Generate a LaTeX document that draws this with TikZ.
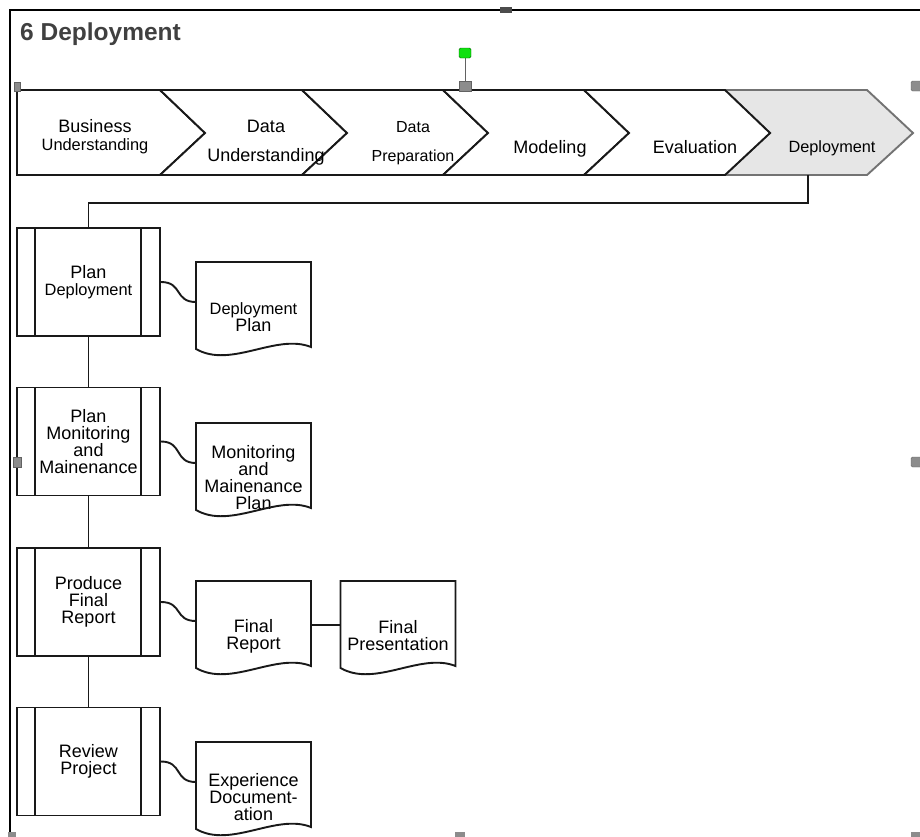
\documentclass[tikz,border=0pt]{standalone}
\usepackage{fontspec}
\setmainfont{Liberation Sans}
\usepackage{tikz}

\definecolor{titlegray}{HTML}{404040}
\definecolor{handlegray}{HTML}{8C8C8C}
\definecolor{rotgreen}{HTML}{10E010}
\definecolor{depfill}{HTML}{E6E6E6}

\tikzset{
  chevron/.style={draw=black!90, line width=1.9pt, fill=white, line join=miter},
  steplabel/.style={align=center, inner sep=0pt, font=\fontsize{18}{18}\selectfont},
  procbox/.style={draw=black!90, line width=1.9pt, minimum width=143pt, minimum height=108pt,
    inner sep=0pt, align=center, font=\fontsize{18}{17}\selectfont,
    path picture={\draw[line width=1.9pt]
      ([xshift=18pt]path picture bounding box.north west) -- ([xshift=18pt]path picture bounding box.south west)
      ([xshift=-19pt]path picture bounding box.north east) -- ([xshift=-19pt]path picture bounding box.south east);}},
  doclabel/.style={align=center, inner sep=0pt, font=\fontsize{18}{17}\selectfont},
  docline/.style={draw=black!90, line width=1.9pt, line join=miter},
  link/.style={draw=black!90, line width=1.9pt},
  handle/.style={fill=handlegray, draw=handlegray!70!black, line width=0.4pt}
}

% document outline round a label, with its connection points
\newcommand{\docoutline}[1]{%
  \draw[docline] ([shift={(-57.5,-55)}]#1.center) -- ([shift={(-57.5,32)}]#1.center)
    .. controls +(35,20) and +(-35,-14) .. ([shift={(57.5,30)}]#1.center)
    -- ([shift={(57.5,-55)}]#1.center) -- cycle;
  \coordinate (#1-in) at ([shift={(-57.5,-15)}]#1.center);
  \coordinate (#1-w) at ([shift={(-57.5,-11)}]#1.center);
  \coordinate (#1-e) at ([shift={(57.5,-11)}]#1.center);}

\begin{document}
\begin{tikzpicture}[x=1pt, y=-1pt]
  \useasboundingbox (0,0) rectangle (920,836);

  % frame
  \draw[line width=2.2pt, black] (920,10) -- (10,10) -- (10,836);
  \node[anchor=base west, inner sep=0pt, text=titlegray, font=\fontsize{24.5}{28}\selectfont\bfseries] (title) at (20,40) {6 Deployment};

  % phase chevrons
  \draw[chevron, fill=depfill, draw=black!55] (725,90) -- (867,90) -- (913,133) -- (867,175) -- (725,175) -- (770,133) -- cycle;
  \draw[chevron] (17,90) -- (160,90) -- (205,133) -- (160,175) -- (17,175) -- cycle;
  \draw[chevron] (160,90) -- (302,90) -- (347,133) -- (302,175) -- (160,175) -- (205,133) -- cycle;
  \draw[chevron] (302,90) -- (443,90) -- (488,133) -- (443,175) -- (302,175) -- (347,133) -- cycle;
  \draw[chevron] (443,90) -- (584,90) -- (629,133) -- (584,175) -- (443,175) -- (488,133) -- cycle;
  \draw[chevron] (584,90) -- (725,90) -- (770,133) -- (725,175) -- (584,175) -- (629,133) -- cycle;

  \node[steplabel] (bu) at (95,137) {Business\\{\fontsize{16.4}{18}\selectfont Understanding}};
  \node[steplabel] (du) at (266,143) {Data\\[11pt]Understanding};
  \node[steplabel, font=\fontsize{16}{18}\selectfont] (dp) at (413,143) {Data\\[11pt]Preparation};
  \node[steplabel, anchor=base] (mo) at (550,153) {Modeling};
  \node[steplabel, anchor=base] (ev) at (695,153) {Evaluation};
  \node[steplabel, anchor=base, font=\fontsize{16.3}{18}\selectfont] (de) at (832,152) {Deployment};
  \coordinate (depfoot) at (808,175);

  % tasks
  \node[procbox] (pdep) at (88.5,282) {Plan\\{\fontsize{16.4}{17}\selectfont Deployment}};
  \node[procbox] (pmon) at (88.5,441.5) {Plan\\Monitoring\\and\\Mainenance};
  \node[procbox] (prep) at (88.5,602) {Produce\\Final\\Report};
  \node[procbox] (prev) at (88.5,761.5) {Review\\Project};

  % outputs
  \node[doclabel] (dplan) at (253.5,317) {{\fontsize{16.4}{17}\selectfont Deployment}\\Plan};
  \node[doclabel] (dmon) at (253.5,478) {Monitoring\\and\\Mainenance\\Plan};
  \node[doclabel] (dfin) at (253.5,636) {Final\\Report};
  \node[doclabel] (dpres) at (398,636) {Final\\Presentation};
  \node[doclabel] (dexp) at (253.5,797) {Experience\\Document-\\ation};
  \docoutline{dplan}
  \docoutline{dmon}
  \docoutline{dfin}
  \docoutline{dpres}
  \docoutline{dexp}

  % connectors
  \draw[link] (depfoot) -- ++(0,28) -| (pdep.north);
  \draw[link] (pdep.south) -- (pmon.north);
  \draw[link] (pmon.south) -- (prep.north);
  \draw[link] (prep.south) -- (prev.north);
  \draw[link] (pdep.east) .. controls +(22,0) and +(-22,0) .. (dplan-in);
  \draw[link] (pmon.east) .. controls +(22,0) and +(-22,0) .. (dmon-in);
  \draw[link] (prep.east) .. controls +(22,0) and +(-22,0) .. (dfin-in);
  \draw[link] (prev.east) .. controls +(22,0) and +(-22,0) .. (dexp-in);
  \draw[link] (dfin-e) -- (dpres-w);

  % selection handles
  \draw[handle] (14,82) rectangle (20,91);
  \draw[handle] (13,457) rectangle (21,467);
  \draw[handlegray!70!black, line width=1pt] (465,58) -- (465,81);
  \draw[handle] (459,81) rectangle (471,91);
  \draw[fill=rotgreen, draw=green!40!black, line width=0.4pt, rounded corners=1.5pt] (459,48) rectangle (471,58);
  \draw[handle, rounded corners=1.5pt] (911,81) rectangle (922,91);
  \draw[handle, rounded corners=1.5pt] (911,457) rectangle (922,467);
  \fill[black!70] (500,7) rectangle (512,13);
  \fill[handlegray] (8,832) rectangle (16,838);
  \fill[handlegray] (455,832) rectangle (465,838);
  \fill[handlegray] (911,832) rectangle (922,838);
\end{tikzpicture}
\end{document}
